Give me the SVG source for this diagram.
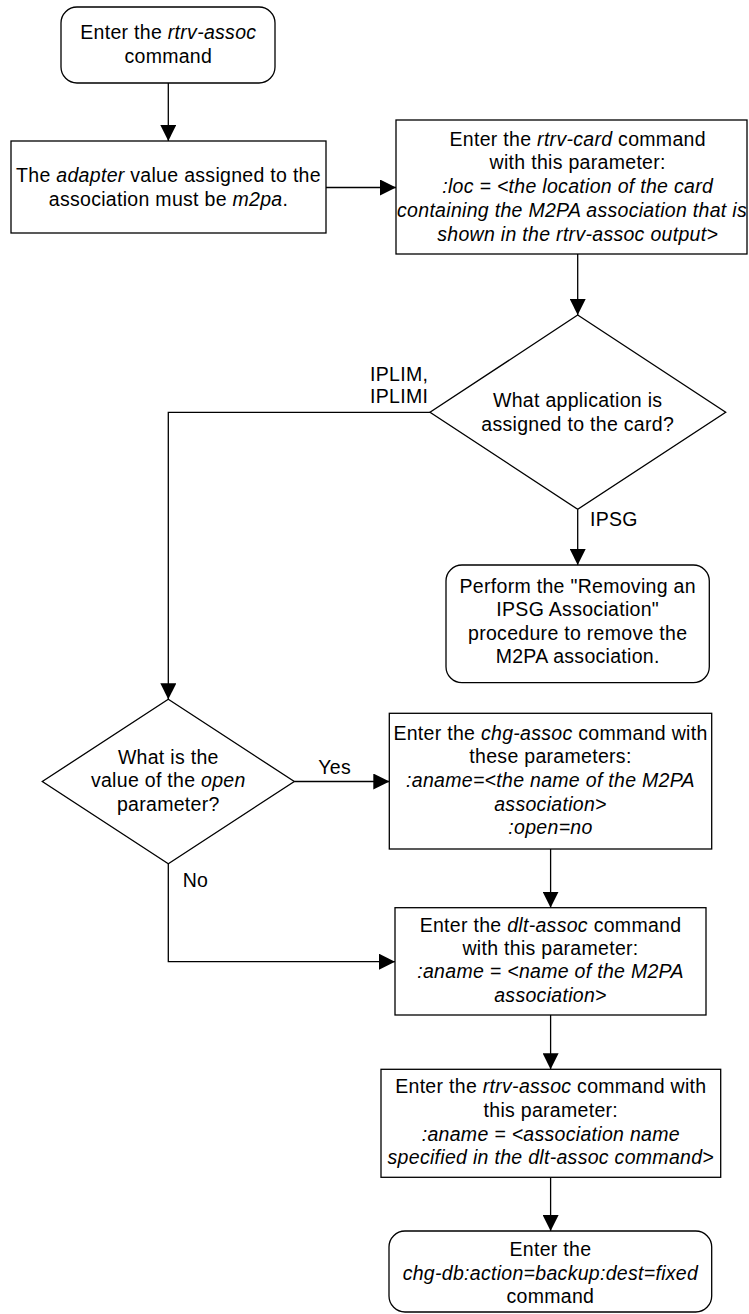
<svg xmlns="http://www.w3.org/2000/svg" width="749" height="1314" viewBox="0 0 749 1314">
<defs>
<marker id="arr" markerUnits="userSpaceOnUse" markerWidth="16" markerHeight="16" refX="16" refY="8" orient="auto">
<path d="M0,0 L16,8 L0,16 z" fill="#000"/>
</marker>
<style>
.shape{fill:#fff;stroke:#000;stroke-width:1.3}
.edge{fill:none;stroke:#000;stroke-width:1.3;marker-end:url(#arr)}
text{font-family:"Liberation Sans",Arial,sans-serif;font-size:19.5px;letter-spacing:0.3px;fill:#000}
.c{text-anchor:middle}
.i{font-style:italic}
</style>
</defs>
<rect width="749" height="1314" fill="#fff"/>
<g id="connectors">
<line class="edge" x1="168.3" y1="83" x2="168.3" y2="141"/>
<line class="edge" x1="326" y1="187.5" x2="396" y2="187.5"/>
<line class="edge" x1="577.7" y1="254" x2="577.7" y2="315"/>
<polyline class="edge" points="430,412.3 168.3,412.3 168.3,699.3"/>
<line class="edge" x1="577.7" y1="509.3" x2="577.7" y2="565"/>
<line class="edge" x1="294.3" y1="781.5" x2="389.3" y2="781.5"/>
<polyline class="edge" points="168.3,863.7 168.3,961.7 395,961.7"/>
<line class="edge" x1="550.6" y1="849" x2="550.6" y2="907.7"/>
<line class="edge" x1="550.6" y1="1015" x2="550.6" y2="1069.3"/>
<line class="edge" x1="550.6" y1="1177.3" x2="550.6" y2="1231"/>
<text x="370" y="381">IPLIM,</text>
<text x="370" y="402.7">IPLIMI</text>
<text x="590" y="526">IPSG</text>
<text x="318.3" y="774">Yes</text>
<text x="182.7" y="886.7">No</text>
</g>
<g id="start">
<rect class="shape" x="61" y="7" width="214" height="76" rx="16"/>
<text class="c" x="168.3" y="39">Enter the <tspan class="i">rtrv-assoc</tspan></text>
<text class="c" x="168.3" y="62.7">command</text>
</g>
<g id="adapter">
<rect class="shape" x="11" y="141" width="315" height="92"/>
<text class="c" x="168.5" y="181.7">The <tspan class="i">adapter</tspan> value assigned to the</text>
<text class="c" x="168.5" y="205.7">association must be <tspan class="i">m2pa</tspan>.</text>
</g>
<g id="rtrv-card">
<rect class="shape" x="396" y="120" width="351" height="134"/>
<text class="c" x="577.7" y="145.7">Enter the <tspan class="i">rtrv-card</tspan> command</text>
<text class="c" x="577.7" y="169.3">with this parameter:</text>
<text class="c i" x="577.7" y="193.3">:loc = &lt;the location of the card</text>
<text class="c i" x="572" y="216.7">containing the M2PA association that is</text>
<text class="c i" x="577.7" y="240.7">shown in the rtrv-assoc output&gt;</text>
</g>
<g id="application">
<polygon class="shape" points="577.7,315 725.7,412.3 577.7,509.3 430,412.3"/>
<text class="c" x="577.7" y="407">What application is</text>
<text class="c" x="577.7" y="431">assigned to the card?</text>
</g>
<g id="ipsg">
<rect class="shape" x="446" y="565" width="263.3" height="117.7" rx="16"/>
<text class="c" x="577.7" y="592.7">Perform the "Removing an</text>
<text class="c" x="577.7" y="616">IPSG Association"</text>
<text class="c" x="577.7" y="640">procedure to remove the</text>
<text class="c" x="577.7" y="663.3">M2PA association.</text>
</g>
<g id="open">
<polygon class="shape" points="168.3,699.3 294.3,781.5 168.3,863.7 42.3,781.5"/>
<text class="c" x="168.3" y="763.5">What is the</text>
<text class="c" x="168.3" y="787">value of the <tspan class="i">open</tspan></text>
<text class="c" x="168.3" y="810.7">parameter?</text>
</g>
<g id="chg-assoc">
<rect class="shape" x="389.3" y="713.3" width="322.4" height="135.7"/>
<text class="c" x="550.5" y="740">Enter the <tspan class="i">chg-assoc</tspan> command with</text>
<text class="c" x="550.5" y="763.3">these parameters:</text>
<text class="c i" x="550.5" y="787.3">:aname=&lt;the name of the M2PA</text>
<text class="c i" x="550.5" y="810.7">association&gt;</text>
<text class="c i" x="550.5" y="834">:open=no</text>
</g>
<g id="dlt-assoc">
<rect class="shape" x="395" y="907.7" width="311" height="107.3"/>
<text class="c" x="550.5" y="931.7">Enter the <tspan class="i">dlt-assoc</tspan> command</text>
<text class="c" x="550.5" y="955">with this parameter:</text>
<text class="c i" x="550.5" y="978.3">:aname = &lt;name of the M2PA</text>
<text class="c i" x="550.5" y="1001.7">association&gt;</text>
</g>
<g id="rtrv-assoc">
<rect class="shape" x="381" y="1069.3" width="339.7" height="108"/>
<text class="c" x="550.8" y="1093.3">Enter the <tspan class="i">rtrv-assoc</tspan> command with</text>
<text class="c" x="550.8" y="1116.7">this parameter:</text>
<text class="c i" x="550.8" y="1140.7">:aname = &lt;association name</text>
<text class="c i" x="550.8" y="1164.3">specified in the dlt-assoc command&gt;</text>
</g>
<g id="chg-db">
<rect class="shape" x="389" y="1231" width="322.7" height="81" rx="16"/>
<text class="c" x="550.4" y="1256">Enter the</text>
<text class="c i" x="550.4" y="1280">chg-db:action=backup:dest=fixed</text>
<text class="c" x="550.4" y="1303.3">command</text>
</g>
</svg>
